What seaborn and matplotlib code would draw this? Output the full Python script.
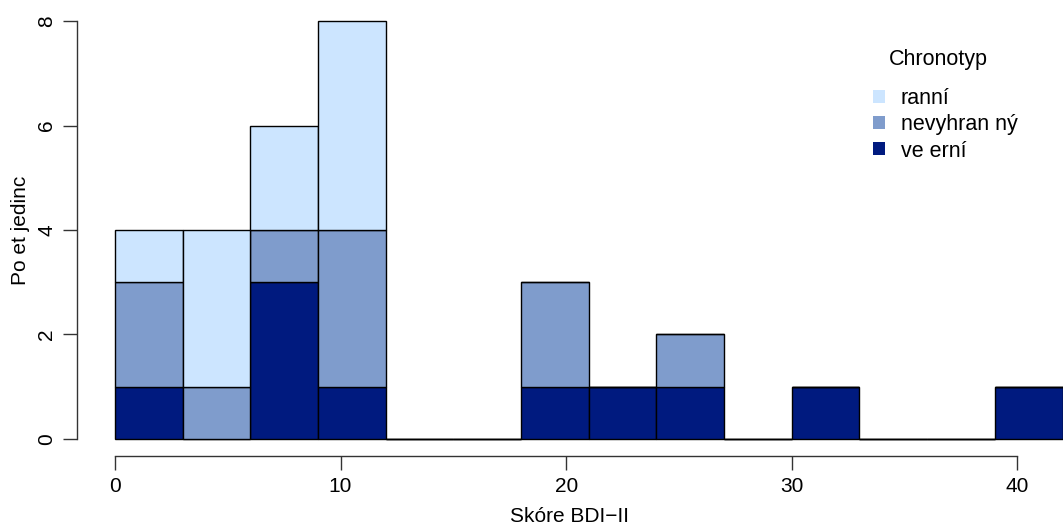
import numpy as np
import pandas as pd
import matplotlib
matplotlib.use("Agg")
import matplotlib.pyplot as plt
from matplotlib.patches import Patch
import seaborn as sns

# Histogram bins for BDI-II scores (width 3)
bin_edges = list(range(0, 43, 3))
groups = ["ranní", "nevyhran ný", "ve erní"]
colors = ["#cce5ff", "#7f9ccc", "#001a7f"]

# Counts per bin for each chronotype
counts_ranni = [1, 3, 2, 4, 0, 0, 0, 0, 0, 0, 0, 0, 0, 0]
counts_nevyhraneny = [2, 1, 1, 3, 0, 0, 2, 0, 1, 0, 0, 0, 0, 0]
counts_vecerni = [1, 0, 3, 1, 0, 0, 1, 1, 1, 0, 1, 0, 0, 1]

x_ticks = [0, 10, 20, 30, 40]
y_ticks = [0, 2, 4, 6, 8]

sns.set_theme(style="white")
plt.rcParams["font.family"] = ["Liberation Sans", "DejaVu Sans"]
plt.rcParams["text.color"] = "black"
plt.rcParams["axes.labelcolor"] = "black"

centers = [e + 1.5 for e in bin_edges[:-1]]
rows = []
for g, cnts in zip(groups, [counts_ranni, counts_nevyhraneny, counts_vecerni]):
    for c, n in zip(centers, cnts):
        rows.append({"score": c, "n": n, "group": g})
df = pd.DataFrame(rows)

W, H = 1063, 527
fig = plt.figure(figsize=(W / 100, H / 100), dpi=100)
# axes box in pixels
left_px, right_px = 77, 1063
top_px, bottom_px = 4.3, 455.7
ax = fig.add_axes([left_px / W, 1 - bottom_px / H,
                   (right_px - left_px) / W, (bottom_px - top_px) / H])

sns.histplot(data=df, x="score", weights="n", hue="group", hue_order=groups,
             palette=colors, bins=bin_edges, multiple="stack", alpha=1,
             edgecolor="black", linewidth=1.0, legend=False, ax=ax)

px_per_unit = (1017.5 - 115) / 40
ax.set_xlim(-1.68, -1.68 + (right_px - left_px) / px_per_unit)
ax.set_ylim(-0.32, 8.32)

for s in ["top", "right"]:
    ax.spines[s].set_visible(False)
for s in ["left", "bottom"]:
    ax.spines[s].set_color("#333333")
    ax.spines[s].set_linewidth(1.0)
ax.spines["left"].set_bounds(0, 8)
ax.spines["bottom"].set_bounds(0, 40)

ax.set_xticks(x_ticks)
ax.set_yticks(y_ticks)
ax.set_xticklabels([str(t) for t in x_ticks])
ax.set_yticklabels([str(t) for t in y_ticks], rotation=90, va="center")
ax.tick_params(axis="both", which="both", length=10, width=1.0, color="#333333",
               labelsize=15, labelcolor="black", direction="out", pad=5,
               left=True, bottom=True)

ax.set_xlabel("Skóre BDI−II", fontsize=15, labelpad=8.5, color="black")
ax.set_ylabel("Po et jedinc", fontsize=15, labelpad=5.5, color="black")

handles = [Patch(facecolor=c, edgecolor="none") for c in colors]
leg = ax.legend(handles, groups, loc="upper left",
                bbox_to_anchor=(862 / W, 1 - 77 / H), bbox_transform=fig.transFigure,
                frameon=False, fontsize=15.5,
                handlelength=0.55, handleheight=0.55, handletextpad=0.75,
                labelspacing=0.25, borderpad=0)
for t in leg.get_texts():
    t.set_color("black")
fig.text(938 / W, 1 - 60 / H, "Chronotyp", fontsize=15.5, color="black",
         ha="center", va="center")

fig.savefig("out.png", dpi=100)
